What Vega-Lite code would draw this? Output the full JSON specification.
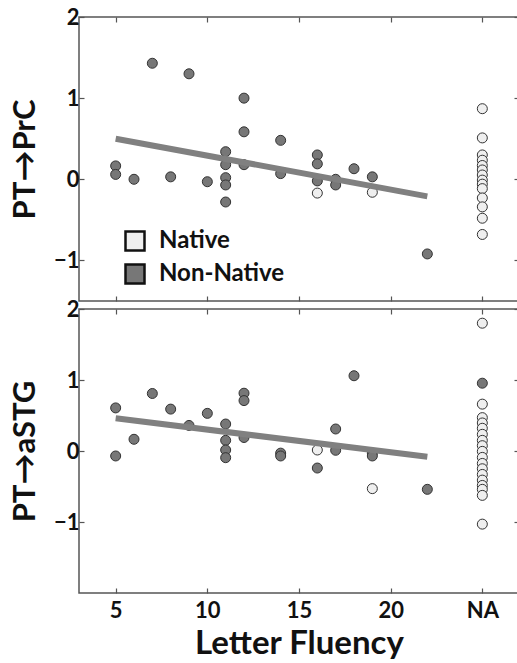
{
  "$schema": "https://vega.github.io/schema/vega-lite/v6.json",
  "padding": {"left": 8, "top": 5, "right": 0, "bottom": 2},
  "background": "white",
  "bounds": "flush",
  "config": {
    "font": "Lato",
    "view": {"stroke": "#555555", "strokeWidth": 1.5},
    "axis": {
      "grid": false,
      "domain": false,
      "tickColor": "#555555",
      "tickSize": -5,
      "tickWidth": 1.2,
      "labelFont": "Lato",
      "labelFontSize": 22,
      "labelFontWeight": "bold",
      "labelColor": "#111111",
      "labelPadding": 5,
      "titleFont": "Lato",
      "titleFontWeight": "bold",
      "titleColor": "#111111"
    }
  },
  "datasets": {
    "prc": [
      {"fluency": 5, "value": 0.165, "group": "Non-Native"},
      {"fluency": 5, "value": 0.06, "group": "Non-Native"},
      {"fluency": 6, "value": 0.0, "group": "Non-Native"},
      {"fluency": 7, "value": 1.43, "group": "Non-Native"},
      {"fluency": 8, "value": 0.03, "group": "Non-Native"},
      {"fluency": 9, "value": 1.3, "group": "Non-Native"},
      {"fluency": 10, "value": -0.03, "group": "Non-Native"},
      {"fluency": 11, "value": 0.34, "group": "Non-Native"},
      {"fluency": 11, "value": 0.18, "group": "Non-Native"},
      {"fluency": 11, "value": 0.02, "group": "Non-Native"},
      {"fluency": 11, "value": -0.07, "group": "Non-Native"},
      {"fluency": 11, "value": -0.28, "group": "Non-Native"},
      {"fluency": 12, "value": 1.0, "group": "Non-Native"},
      {"fluency": 12, "value": 0.585, "group": "Non-Native"},
      {"fluency": 12, "value": 0.18, "group": "Non-Native"},
      {"fluency": 14, "value": 0.48, "group": "Non-Native"},
      {"fluency": 14, "value": 0.07, "group": "Non-Native"},
      {"fluency": 16, "value": 0.3, "group": "Non-Native"},
      {"fluency": 16, "value": 0.19, "group": "Non-Native"},
      {"fluency": 16, "value": -0.02, "group": "Non-Native"},
      {"fluency": 17, "value": 0.0, "group": "Non-Native"},
      {"fluency": 17, "value": -0.07, "group": "Non-Native"},
      {"fluency": 18, "value": 0.13, "group": "Non-Native"},
      {"fluency": 19, "value": 0.03, "group": "Non-Native"},
      {"fluency": 22, "value": -0.92, "group": "Non-Native"},
      {"fluency": 16, "value": -0.17, "group": "Native"},
      {"fluency": 19, "value": -0.16, "group": "Native"},
      {"fluency": 25, "value": 0.87, "group": "Native"},
      {"fluency": 25, "value": 0.51, "group": "Native"},
      {"fluency": 25, "value": 0.3, "group": "Native"},
      {"fluency": 25, "value": 0.235, "group": "Native"},
      {"fluency": 25, "value": 0.17, "group": "Native"},
      {"fluency": 25, "value": 0.115, "group": "Native"},
      {"fluency": 25, "value": 0.053, "group": "Native"},
      {"fluency": 25, "value": -0.01, "group": "Native"},
      {"fluency": 25, "value": -0.06, "group": "Native"},
      {"fluency": 25, "value": -0.115, "group": "Native"},
      {"fluency": 25, "value": -0.23, "group": "Native"},
      {"fluency": 25, "value": -0.34, "group": "Native"},
      {"fluency": 25, "value": -0.48, "group": "Native"},
      {"fluency": 25, "value": -0.68, "group": "Native"}
    ],
    "prc_fit": [
      {"fluency": 5, "value": 0.5},
      {"fluency": 22, "value": -0.21}
    ],
    "astg": [
      {"fluency": 5, "value": 0.607, "group": "Non-Native"},
      {"fluency": 5, "value": -0.07, "group": "Non-Native"},
      {"fluency": 6, "value": 0.165, "group": "Non-Native"},
      {"fluency": 7, "value": 0.81, "group": "Non-Native"},
      {"fluency": 8, "value": 0.59, "group": "Non-Native"},
      {"fluency": 9, "value": 0.36, "group": "Non-Native"},
      {"fluency": 10, "value": 0.53, "group": "Non-Native"},
      {"fluency": 11, "value": 0.38, "group": "Non-Native"},
      {"fluency": 11, "value": 0.15, "group": "Non-Native"},
      {"fluency": 11, "value": 0.014, "group": "Non-Native"},
      {"fluency": 11, "value": -0.094, "group": "Non-Native"},
      {"fluency": 12, "value": 0.814, "group": "Non-Native"},
      {"fluency": 12, "value": 0.71, "group": "Non-Native"},
      {"fluency": 12, "value": 0.19, "group": "Non-Native"},
      {"fluency": 14, "value": -0.03, "group": "Non-Native"},
      {"fluency": 14, "value": -0.07, "group": "Non-Native"},
      {"fluency": 16, "value": -0.24, "group": "Non-Native"},
      {"fluency": 17, "value": 0.31, "group": "Non-Native"},
      {"fluency": 17, "value": 0.01, "group": "Non-Native"},
      {"fluency": 18, "value": 1.06, "group": "Non-Native"},
      {"fluency": 19, "value": -0.03, "group": "Non-Native"},
      {"fluency": 19, "value": -0.07, "group": "Non-Native"},
      {"fluency": 22, "value": -0.54, "group": "Non-Native"},
      {"fluency": 25, "value": 0.955, "group": "Non-Native"},
      {"fluency": 16, "value": 0.014, "group": "Native"},
      {"fluency": 19, "value": -0.53, "group": "Native"},
      {"fluency": 25, "value": 1.8, "group": "Native"},
      {"fluency": 25, "value": 0.66, "group": "Native"},
      {"fluency": 25, "value": 0.47, "group": "Native"},
      {"fluency": 25, "value": 0.395, "group": "Native"},
      {"fluency": 25, "value": 0.32, "group": "Native"},
      {"fluency": 25, "value": 0.235, "group": "Native"},
      {"fluency": 25, "value": 0.15, "group": "Native"},
      {"fluency": 25, "value": 0.075, "group": "Native"},
      {"fluency": 25, "value": -0.005, "group": "Native"},
      {"fluency": 25, "value": -0.09, "group": "Native"},
      {"fluency": 25, "value": -0.175, "group": "Native"},
      {"fluency": 25, "value": -0.25, "group": "Native"},
      {"fluency": 25, "value": -0.33, "group": "Native"},
      {"fluency": 25, "value": -0.41, "group": "Native"},
      {"fluency": 25, "value": -0.485, "group": "Native"},
      {"fluency": 25, "value": -0.54, "group": "Native"},
      {"fluency": 25, "value": -0.625, "group": "Native"},
      {"fluency": 25, "value": -1.03, "group": "Native"}
    ],
    "astg_fit": [
      {"fluency": 5, "value": 0.46},
      {"fluency": 22, "value": -0.08}
    ]
  },
  "vconcat": [
    {
      "width": 440,
      "height": 284,
      "layer": [
        {
          "data": {"name": "prc"},
          "mark": {"type": "point", "shape": "circle", "filled": true, "size": 100, "stroke": "#333333", "strokeWidth": 1, "opacity": 1},
          "encoding": {
            "x": {"field": "fluency", "type": "quantitative", "scale": {"domain": [3, 27], "nice": false, "zero": false},
                  "axis": {"orient": "bottom", "values": [5, 10, 15, 20, 25], "labels": false, "title": null, "minExtent": 0, "maxExtent": 0, "labelPadding": 0}},
            "y": {"field": "value", "type": "quantitative", "scale": {"domain": [-1.5, 2], "nice": false, "zero": false},
                  "axis": {"orient": "left", "values": [-1, 0, 1, 2], "title": "PT\u2192PrC", "titleFontSize": 31, "titlePadding": 12}},
            "fill": {"field": "group", "type": "nominal",
                     "scale": {"domain": ["Native", "Non-Native"], "range": ["#efefef", "#777777"]},
                     "legend": {"orient": "none", "legendX": 44, "legendY": 212, "title": null,
                                "symbolType": "square", "symbolSize": 361, "symbolStrokeColor": "#111111", "symbolStrokeWidth": 2.5,
                                "symbolOpacity": 1, "labelFont": "Lato", "labelFontSize": 24, "labelFontWeight": "bold",
                                "labelColor": "#111111", "labelOffset": 12, "rowPadding": 3}}
          }
        },
        {
          "data": {"name": "prc_fit"},
          "mark": {"type": "line", "color": "#808080", "strokeWidth": 6, "strokeCap": "butt"},
          "encoding": {
            "x": {"field": "fluency", "type": "quantitative", "axis": {"orient": "top", "values": [5, 10, 15, 20, 25], "labels": false, "title": null, "minExtent": 0, "maxExtent": 0, "labelPadding": 0}},
            "y": {"field": "value", "type": "quantitative", "axis": {"orient": "right", "values": [-1, 0, 1, 2], "labels": false, "title": null, "minExtent": 0, "maxExtent": 0, "labelPadding": 0}}
          }
        }
      ],
      "resolve": {"axis": {"x": "independent", "y": "independent"}}
    },
    {
      "width": 440,
      "height": 284,
      "layer": [
        {
          "data": {"name": "astg"},
          "mark": {"type": "point", "shape": "circle", "filled": true, "size": 100, "stroke": "#333333", "strokeWidth": 1, "opacity": 1},
          "encoding": {
            "x": {"field": "fluency", "type": "quantitative", "scale": {"domain": [3, 27], "nice": false, "zero": false},
                  "axis": {"orient": "bottom", "values": [5, 10, 15, 20, 25], "labelExpr": "datum.value == 25 ? 'NA' : datum.label",
                           "labelPadding": 12, "title": "Letter Fluency", "titleFontSize": 33, "titlePadding": 6}},
            "y": {"field": "value", "type": "quantitative", "scale": {"domain": [-2, 2], "nice": false, "zero": false},
                  "axis": {"orient": "left", "values": [-1, 0, 1, 2], "title": "PT\u2192aSTG", "titleFontSize": 31, "titlePadding": 12}},
            "fill": {"field": "group", "type": "nominal",
                     "scale": {"domain": ["Native", "Non-Native"], "range": ["#efefef", "#777777"]},
                     "legend": null}
          }
        },
        {
          "data": {"name": "astg_fit"},
          "mark": {"type": "line", "color": "#808080", "strokeWidth": 6, "strokeCap": "butt"},
          "encoding": {
            "x": {"field": "fluency", "type": "quantitative", "axis": {"orient": "top", "values": [5, 10, 15, 20, 25], "labels": false, "title": null, "minExtent": 0, "maxExtent": 0, "labelPadding": 0}},
            "y": {"field": "value", "type": "quantitative", "axis": {"orient": "right", "values": [-1, 0, 1, 2], "labels": false, "title": null, "minExtent": 0, "maxExtent": 0, "labelPadding": 0}}
          }
        }
      ],
      "resolve": {"axis": {"x": "independent", "y": "independent"}}
    }
  ],
  "spacing": 8
}
